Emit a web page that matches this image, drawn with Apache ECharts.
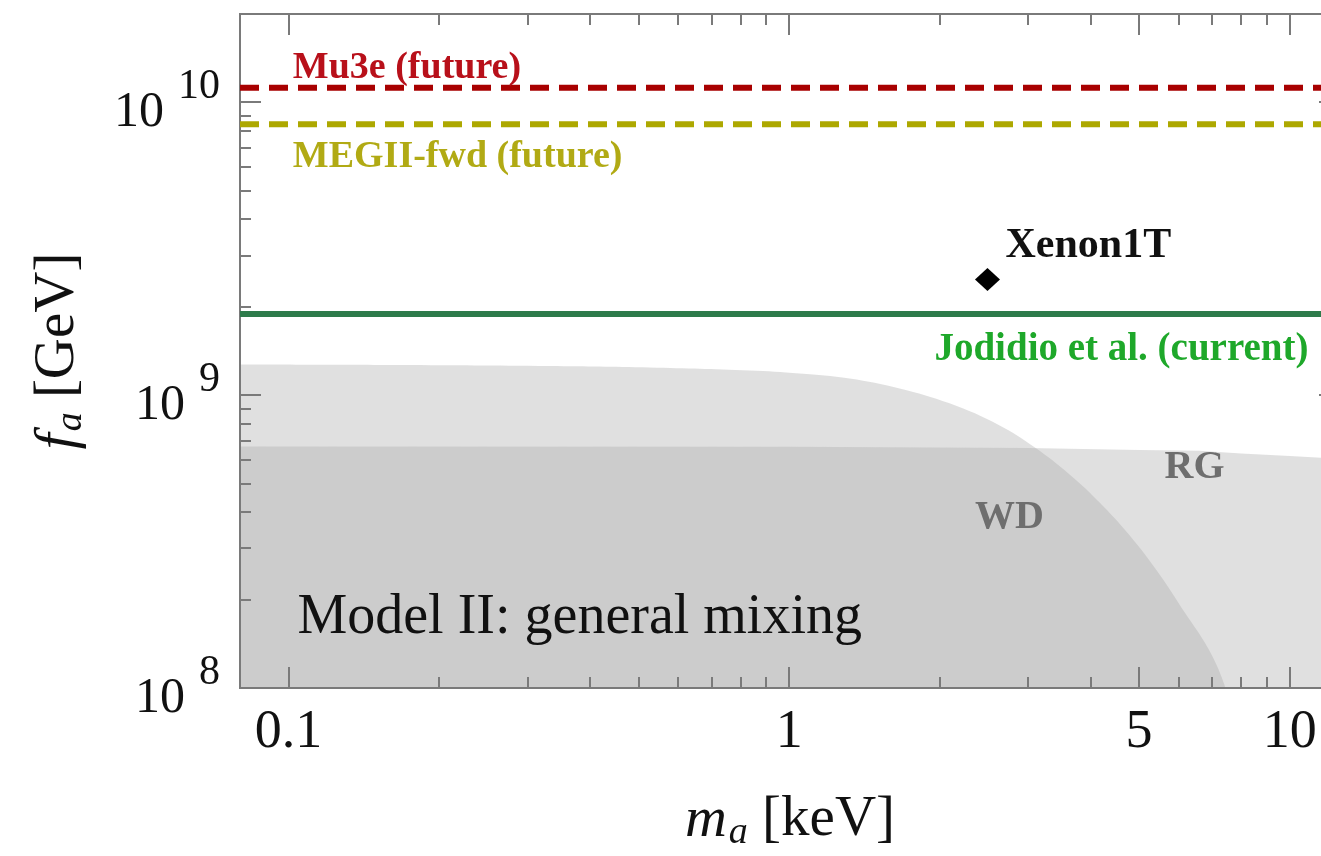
<!DOCTYPE html>
<html>
<head>
<meta charset="utf-8">
<script src="https://cdn.jsdelivr.net/npm/echarts@6/dist/echarts.min.js"></script>
<style>
html,body{margin:0;padding:0;background:#fff;}
#chart{width:1321px;height:856px;}
</style>
</head>
<body>
<div id="chart"></div>
<script>
// ---------- data (physical units: m_a in keV, f_a in GeV) ----------
const massRange = [0.08, 12.6];
const faRange = [1e8, 2e10];
const xMajorTicks = [0.1, 1, 5, 10];
const xMinorTicks = [0.2, 0.3, 0.4, 0.5, 0.6, 0.7, 0.8, 0.9, 2, 3, 4, 6, 7, 8, 9];
const yMajorTicks = [1e8, 1e9, 1e10];
const yMinorTicks = [2e8, 3e8, 4e8, 5e8, 6e8, 7e8, 8e8, 9e8, 2e9, 3e9, 4e9, 5e9, 6e9, 7e9, 8e9, 9e9, 2e10];

const mu3eFa = 1.12e10;      // Mu3e (future)
const megFa = 8.4e9;         // MEGII-fwd (future)
const jodidioFa = 1.89e9;    // Jodidio et al. (current)
const xenonMass = [2.49];
const xenonFa = [2.48e9];

const wdMass = [0.08, 0.1666, 0.3322, 0.526, 0.8334, 1.049, 1.32, 1.662, 2.091, 2.633, 3.092, 3.632, 4.17, 4.786, 5.495, 6.165, 6.759, 7.175, 7.443];
const wdFa = [1.273e9, 1.268e9, 1.258e9, 1.243e9, 1.214e9, 1.186e9, 1.14e9, 1.054e9, 9.37e8, 7.88e8, 6.63e8, 5.36e8, 4.3e8, 3.32e8, 2.44e8, 1.813e8, 1.432e8, 1.177e8, 1e8];
const rgMass = [0.08, 1, 3, 5, 6.6, 8, 10, 12.6];
const rgFa = [6.68e8, 6.66e8, 6.6e8, 6.5e8, 6.45e8, 6.32e8, 6.2e8, 6.05e8];

const annotationTexts = ['Mu3e (future)', 'MEGII-fwd (future)', 'Xenon1T', 'Jodidio et al. (current)', 'RG', 'WD', 'Model II: general mixing'];
const annotationMass = [0.102, 0.102, 2.705, 10.9, 6.455, 2.756, 0.1042];
const annotationFa = [1.308e10, 6.5e9, 3.22e9, 1.421e9, 5.665e8, 3.825e8, 1.729e8];

// ---------- styles ----------
const SERIF = 'Liberation Serif';
const annotationStyles = [
  {color: '#b8101a', fontSize: 38, fontWeight: 'bold', align: 'left'},
  {color: '#b1aa14', fontSize: 38, fontWeight: 'bold', align: 'left'},
  {color: '#111111', fontSize: 42, fontWeight: 'bold', align: 'left'},
  {color: '#1ea82a', fontSize: 39, fontWeight: 'bold', align: 'right'},
  {color: '#6e6e6e', fontSize: 40, fontWeight: 'bold', align: 'center'},
  {color: '#6e6e6e', fontSize: 40, fontWeight: 'bold', align: 'center'},
  {color: '#111111', fontSize: 56, fontWeight: 'normal', align: 'left'}
];

const L = Math.log10;
const xMin = L(massRange[0]), xMax = L(massRange[1]);
const yMin = L(faRange[0]), yMax = L(faRange[1]);
const fmtNum = v => String(parseFloat(Math.pow(10, v).toPrecision(6)));
const AX = '#7a7a7a';

function xAxisDef(position, ticks, len, withLabels) {
  return {
    type: 'value', position: position, min: xMin, max: xMax, z: 3,
    axisLine: {show: true, onZero: false, lineStyle: {color: AX, width: 2}},
    axisTick: {show: true, inside: true, length: len, customValues: ticks.map(L), lineStyle: {color: AX, width: 2}},
    axisLabel: withLabels ? {
      show: true, customValues: ticks.map(L), formatter: fmtNum, margin: 18,
      fontFamily: SERIF, fontSize: 54, color: '#111'
    } : {show: false},
    splitLine: {show: false}
  };
}
function yAxisDef(position, ticks, len, withLabels) {
  return {
    type: 'value', position: position, min: yMin, max: yMax, z: 3,
    axisLine: {show: true, onZero: false, lineStyle: {color: AX, width: 2}},
    axisTick: {show: true, inside: true, length: len, customValues: ticks.map(L), lineStyle: {color: AX, width: 2}},
    axisLabel: withLabels ? {
      show: true, customValues: ticks.map(L), margin: 20,
      formatter: v => '{b|10}{s|' + Math.round(v) + '}',
      rich: {
        b: {fontFamily: SERIF, fontSize: 50, color: '#111', padding: [22, 0, 0, 0], verticalAlign: 'bottom'},
        s: {fontFamily: SERIF, fontSize: 42, color: '#111', padding: [0, 0, 0, 14], verticalAlign: 'top'}
      }
    } : {show: false},
    splitLine: {show: false}
  };
}

const titleRich = {
  i: {fontFamily: SERIF, fontStyle: 'italic', fontSize: 58, color: '#111', verticalAlign: 'top'},
  sub: {fontFamily: SERIF, fontStyle: 'italic', fontSize: 38, color: '#111', verticalAlign: 'bottom', padding: [22, 0, 0, 2]},
  n: {fontFamily: SERIF, fontSize: 57, color: '#111', verticalAlign: 'top'}
};

const xAxes = [
  xAxisDef('bottom', xMajorTicks, 21, true),
  xAxisDef('bottom', xMinorTicks, 11, false),
  xAxisDef('top', xMajorTicks, 21, false),
  xAxisDef('top', xMinorTicks, 11, false)
];
Object.assign(xAxes[0], {
  name: '{i|m}{sub|a}{n| [keV]}', nameLocation: 'middle', nameGap: 104,
  nameTextStyle: {rich: titleRich}
});
const yAxes = [
  yAxisDef('left', yMajorTicks, 21, true),
  yAxisDef('left', yMinorTicks, 11, false),
  yAxisDef('right', yMajorTicks, 21, false),
  yAxisDef('right', yMinorTicks, 11, false)
];
Object.assign(yAxes[0], {
  name: '{i|f}{sub|a}{n| [GeV]}', nameLocation: 'middle', nameGap: 150, nameRotate: 90,
  nameTextStyle: {rich: titleRich}
});

const regionFill = 'rgba(168,168,168,0.355)';
function hline(value, color, dashed, z) {
  return {
    type: 'line', z: z, silent: true, showSymbol: false, symbol: 'none',
    data: [[xMin, L(value)], [xMax, L(value)]],
    lineStyle: {color: color, width: 6, type: dashed ? [19, 10] : 'solid', cap: 'butt'}
  };
}

const series = [
  {
    type: 'line', name: 'WD', z: 1, silent: true, symbol: 'none', smooth: 0.4,
    data: wdMass.map((m, i) => [L(m), L(wdFa[i])]),
    lineStyle: {width: 0, opacity: 0}, areaStyle: {color: regionFill, origin: 'start', opacity: 1}
  },
  {
    type: 'line', name: 'RG', z: 1, silent: true, symbol: 'none', smooth: false,
    data: rgMass.map((m, i) => [L(m), L(rgFa[i])]),
    lineStyle: {width: 0, opacity: 0}, areaStyle: {color: regionFill, origin: 'start', opacity: 1}
  },
  hline(mu3eFa, '#a80000', true, 4),
  hline(megFa, '#ada800', true, 4),
  hline(jodidioFa, '#2e7b4b', false, 4),
  {
    type: 'scatter', z: 5, silent: true, symbol: 'diamond', symbolSize: [25, 23],
    itemStyle: {color: '#000', opacity: 1},
    data: xenonMass.map((m, i) => [L(m), L(xenonFa[i])])
  },
  {
    type: 'scatter', z: 6, silent: true, symbolSize: 0,
    itemStyle: {color: 'rgba(0,0,0,0)', opacity: 1},
    data: annotationTexts.map((t, i) => ({
      value: [L(annotationMass[i]), L(annotationFa[i])],
      label: Object.assign({
        show: true, position: [0, 0], verticalAlign: 'middle',
        fontFamily: SERIF, formatter: t, opacity: 1
      }, annotationStyles[i])
    }))
  }
];

const chart = echarts.init(document.getElementById('chart'), null, {renderer: 'canvas'});
chart.setOption({
  animation: false,
  backgroundColor: '#ffffff',
  grid: {left: 240, top: 14, width: 1100, height: 674, containLabel: false, outerBoundsMode: 'none'},
  xAxis: xAxes,
  yAxis: yAxes,
  series: series
});
</script>
</body>
</html>
